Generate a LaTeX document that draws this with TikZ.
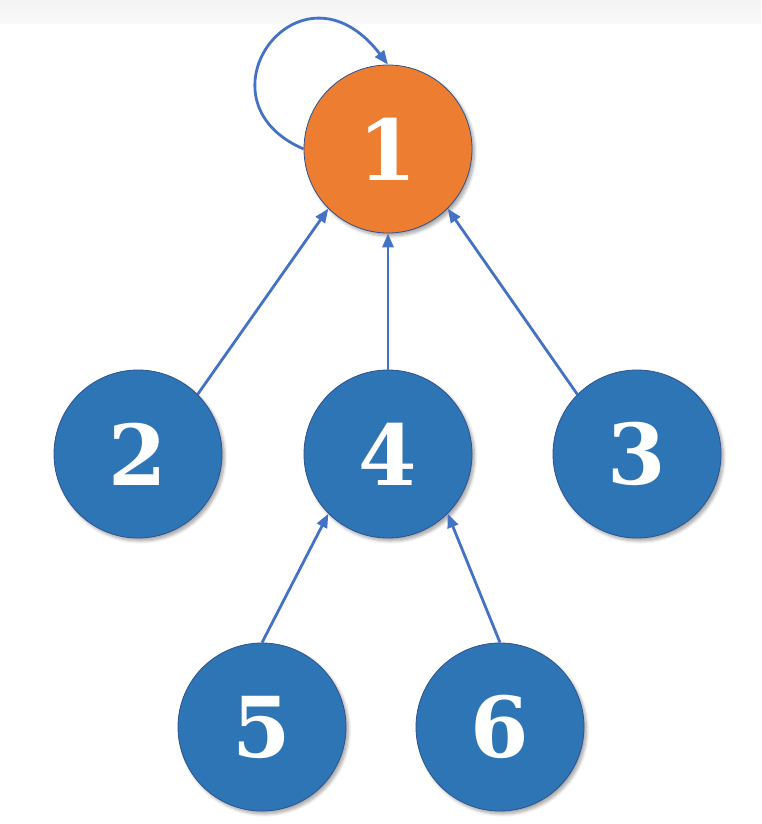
\documentclass[tikz,border=0pt]{standalone}
\usepackage{fontspec}
\setmainfont{DejaVu Serif}
\usetikzlibrary{arrows.meta,shadows.blur}
\definecolor{rootfill}{HTML}{ED7D31}
\definecolor{nodefill}{HTML}{2E75B6}
\definecolor{rimcol}{HTML}{2F528F}
\definecolor{edgecol}{HTML}{4472C4}
\begin{document}
\begin{tikzpicture}[x=1pt,y=-1pt,
  vertex/.style={circle, minimum size=168pt, inner sep=0pt, fill=nodefill,
    draw=rimcol, line width=0.8pt, text=white,
    font=\fontsize{84}{84}\selectfont\bfseries,
    blur shadow={shadow xshift=2.5pt, shadow yshift=-3pt, shadow opacity=35, shadow blur steps=6, shadow blur radius=3pt}},
  rootvertex/.style={vertex, fill=rootfill},
  link/.style={draw=edgecol, line width=2.8pt, -{Triangle[length=14pt,width=11pt]}}]
  \useasboundingbox (0,0) rectangle (761,824);
  % faint band along the top edge
  \shade[top color=gray!9, bottom color=gray!5] (0,0) rectangle (761,24);
  \node[rootvertex] (n1) at (388,149) {1};
  \node[vertex] (n2) at (138,454) {2};
  \node[vertex] (n4) at (388,454) {4};
  \node[vertex] (n3) at (637,454) {3};
  \node[vertex] (n5) at (262,727) {5};
  \node[vertex] (n6) at (500,727) {6};
  \draw[link] (n2.north east) -- (n1.south west);
  \draw[link] (n4.north) -- (n1.south);
  \draw[link] (n3.north west) -- (n1.south east);
  \draw[link] (n5.north) -- (n4.south west);
  \draw[link] (n6.north) -- (n4.south east);
  \draw[link] (n1.west) .. controls (190,100) and (300,-50) .. (n1.north);
\end{tikzpicture}
\end{document}
